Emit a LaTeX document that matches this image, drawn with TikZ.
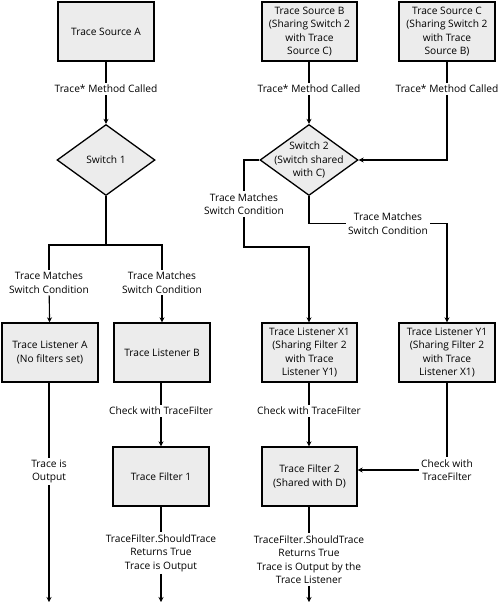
\documentclass[tikz,border=0pt]{standalone}
\usepackage{fontspec}
\setmainfont{Open Sans}
\usetikzlibrary{arrows.meta,shapes.geometric,calc}
\begin{document}
\begin{tikzpicture}[x=1pt,y=-1pt,
  font=\fontsize{10.2pt}{13.5pt}\selectfont,
  box/.style={draw=black,line width=1.3pt,fill=gray!15,minimum width=96pt,minimum height=59pt,inner sep=0pt,align=center},
  dia/.style={draw=black,line width=1.3pt,fill=gray!15,diamond,minimum width=98pt,minimum height=71pt,inner sep=0pt},
  lbl/.style={align=center,inner sep=2pt},
  conn/.style={line width=1.1pt},
  arr/.style={conn,-{Stealth[length=5pt,width=5pt]}}]
\useasboundingbox (0,0) rectangle (500,603);
% left column
\node[box] (srcA) at (106,31.5) {Trace Source A};
\node[lbl] (lA) at (106,89) {Trace* Method Called};
\node[dia] (sw1) at (106,160) {};
\node[lbl] (sw1t) at (106,160) {Switch 1};
\coordinate (b1) at (106,245);
\node[lbl] (tmA) at (49,282.5) {Trace Matches\\Switch Condition};
\node[lbl] (tmB) at (162,282.5) {Trace Matches\\Switch Condition};
\node[box] (lstA) at (50,352.5) {Trace Listener A\\(No filters set)};
\node[box] (lstB) at (162,352.5) {Trace Listener B};
\node[lbl] (outA) at (49,471.5) {Trace is\\Output};
\coordinate (endA) at (49,602);
\node[lbl] (chkB) at (161,411) {Check with TraceFilter};
\node[box] (flt1) at (161,476.5) {Trace Filter 1};
\node[lbl] (retB) at (161,553) {TraceFilter.ShouldTrace\\Returns True\\Trace is Output};
\coordinate (endB) at (161,602);
% right column
\node[box,minimum width=95pt] (srcB) at (309.5,31.5) {Trace Source B\\(Sharing Switch 2\\with Trace\\Source C)};
\node[box] (srcC) at (447,31.5) {Trace Source C\\(Sharing Switch 2\\with Trace\\Source B)};
\node[lbl] (lB) at (309,89) {Trace* Method Called};
\node[lbl] (lC) at (447,89) {Trace* Method Called};
\node[dia] (sw2) at (309,160) {};
\node[lbl] (sw2t) at (309,160) {Switch 2\\(Switch shared\\with C)};
\coordinate (kL) at (244,160);
\node[lbl] (tmL) at (244,204) {Trace Matches\\Switch Condition};
\coordinate (kL2) at (244,247);
\node[lbl] (tmR) at (388,223.5) {Trace Matches\\Switch Condition};
\node[box,minimum width=95pt] (lstX) at (309.5,352.5) {Trace Listener X1\\(Sharing Filter 2\\with Trace\\Listener Y1)};
\node[box] (lstY) at (447,352.5) {Trace Listener Y1\\(Sharing Filter 2\\with Trace\\Listener X1)};
\node[lbl] (chkX) at (309,411) {Check with TraceFilter};
\node[lbl] (chkY) at (447,470) {Check with\\TraceFilter};
\node[box,minimum width=95pt] (flt2) at (309.5,476.5) {Trace Filter 2\\(Shared with D)};
\node[lbl] (ret2) at (309,559.5) {TraceFilter.ShouldTrace\\Returns True\\Trace is Output by the\\Trace Listener};
\coordinate (end2) at (309,602);
% connectors left
\draw[conn] (srcA) -- (lA);
\draw[arr] (lA) -- (sw1);
\draw[conn] (sw1.south) -- (b1);
\draw[conn] (tmA.north) |- (b1) -| (tmB.north);
\draw[arr] (tmA) -- (lstA);
\draw[arr] (tmB) -- (lstB);
\draw[conn] (lstA.south -| outA) -- (outA);
\draw[arr] (outA) -- (endA);
\draw[conn] (lstB.south -| chkB) -- (chkB);
\draw[arr] (chkB) -- (flt1.north -| chkB);
\draw[conn] (flt1) -- (retB);
\draw[arr] (retB) -- (endB);
% connectors right
\draw[conn] (srcB.south -| lB) -- (lB);
\draw[arr] (lB) -- (sw2.north);
\draw[conn] (srcC) -- (lC);
\draw[arr] (lC) |- (sw2.east);
\draw[conn] (sw2.west) -- (kL) -- (tmL);
\draw[arr] (tmL) -- (kL2) -| (lstX.north -| sw2.south);
\draw[conn] (sw2.south) |- (tmR);
\draw[arr] (tmR) -| (lstY);
\draw[conn] (lstX.south -| chkX) -- (chkX);
\draw[arr] (chkX) -- (flt2.north -| chkX);
\draw[conn] (lstY) -- (chkY);
\draw[arr] (chkY.west) -- (flt2.east |- chkY.west);
\draw[conn] (flt2.south -| ret2) -- (ret2);
\draw[arr] (ret2) -- (end2);
\end{tikzpicture}
\end{document}
